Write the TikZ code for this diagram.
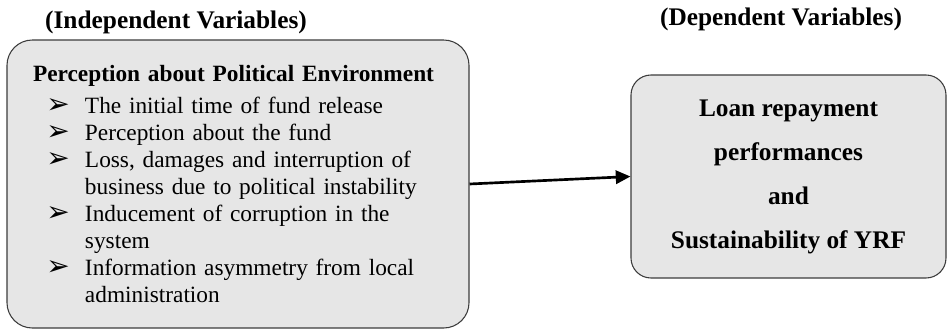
\documentclass[tikz,border=0pt]{standalone}
\usepackage{fontspec}
\setmainfont{Liberation Serif}
\newfontfamily\bulfont{DejaVu Sans}
\usetikzlibrary{arrows.meta}

\definecolor{boxfill}{RGB}{230,230,230}
\definecolor{boxline}{RGB}{60,60,60}

% bullet line and continuation line of the list
\newcommand{\itm}{\hspace*{10pt}\makebox[29pt][l]{\bulfont\fontsize{21}{12}\selectfont ➢}}
\newcommand{\cnt}{\hspace*{39pt}}

\tikzset{
  varbox/.style={draw=boxline, fill=boxfill, line width=0.8pt},
  vartitle/.style={font=\fontsize{19}{22}\selectfont\bfseries},
  link/.style={-{Triangle[length=11pt,width=10pt]}, line width=2pt}
}

\begin{document}
\begin{tikzpicture}[x=0.75pt,y=-0.75pt]
    \useasboundingbox (0,0) rectangle (947,329);

    \node[vartitle] (indeptitle) at (176,22) {(Independent Variables)};
    \node[vartitle] (deptitle) at (781,19) {(Dependent Variables)};

    \node[varbox, rounded corners=19pt, minimum width=346.5pt, minimum height=216pt,
          text width=307.5pt, align=left, font=\fontsize{17.5}{20.25}\selectfont] (indep) at (238,184) {%
        \textbf{Perception about Political Environment}\\[4pt]
        \itm The initial time of fund release\\
        \itm Perception about the fund\\
        \itm Loss, damages and interruption of\\
        \cnt business due to political instability\\
        \itm Inducement of corruption in the\\
        \cnt system\\
        \itm Information asymmetry from local\\
        \cnt administration};

    \node[varbox, rounded corners=15pt, minimum width=236.25pt, minimum height=152.25pt,
          align=center, font=\fontsize{19}{33}\selectfont\bfseries] (dep) at (788.5,176.5) {%
        Loan repayment\\
        performances\\
        and\\
        Sustainability of YRF};

    \draw[link] (indep.east) -- (dep.west);
\end{tikzpicture}
\end{document}
